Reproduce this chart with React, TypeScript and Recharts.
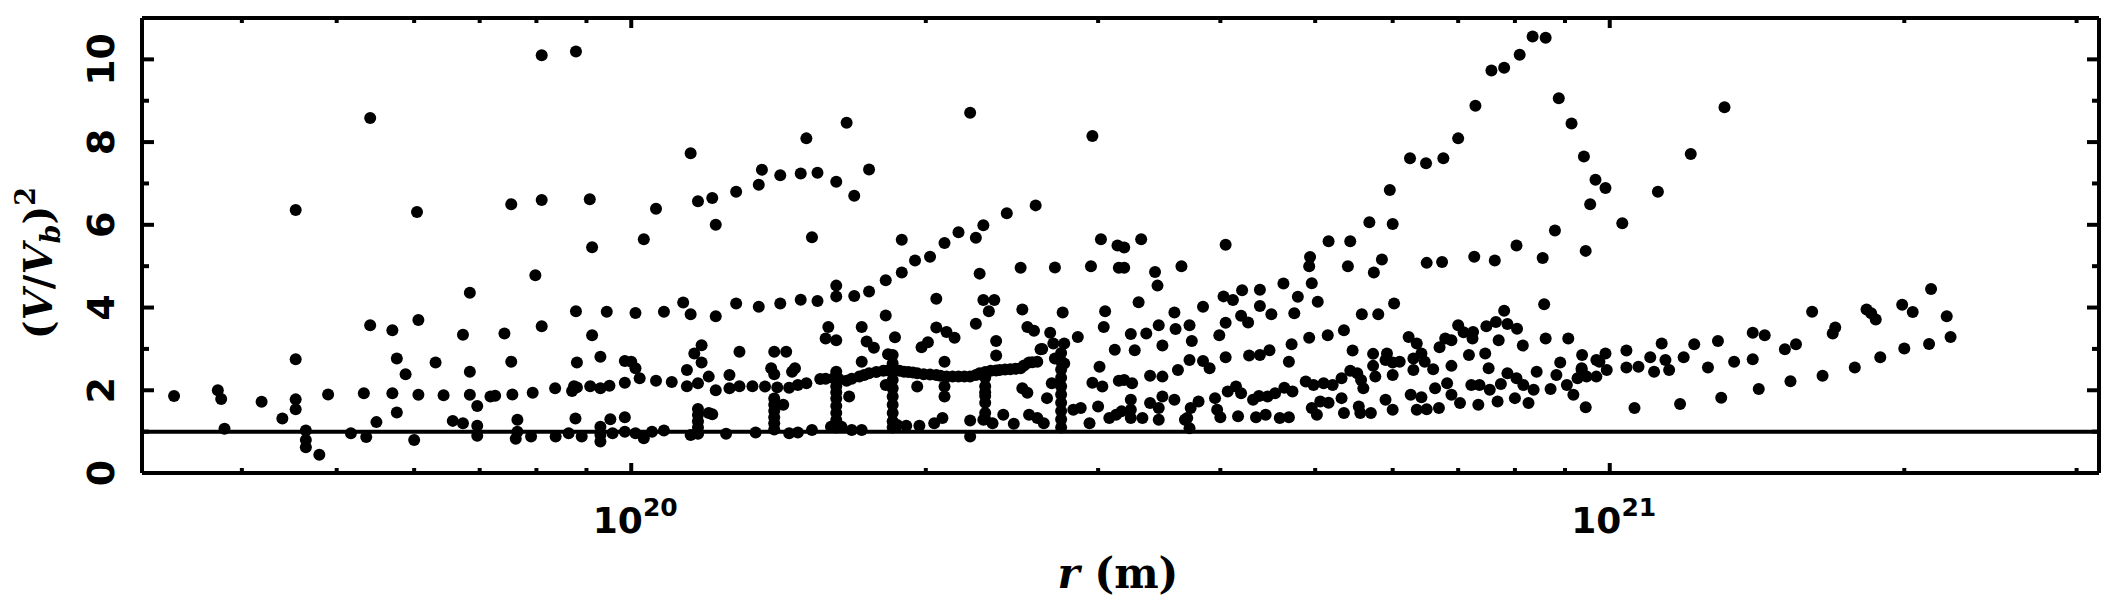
import { ScatterChart, Scatter, XAxis, YAxis, ReferenceLine } from "recharts";

// r (m) and (V/Vb)^2, grouped by region of r
const innerPts: [number, number][] = [
  [3.41e19, 1.86], [3.78e19, 2.0], [3.81e19, 1.79], [3.84e19, 1.07], [4.19e19, 1.72], [4.4e19, 1.32],
  [4.54e19, 6.36], [4.54e19, 2.75], [4.54e19, 1.78], [4.54e19, 1.54], [4.65e19, 1.03], [4.65e19, 0.8],
  [4.65e19, 0.62], [4.8e19, 0.44], [4.9e19, 1.9], [5.17e19, 0.96], [5.33e19, 1.93], [5.36e19, 0.87],
  [5.41e19, 8.58], [5.41e19, 3.57], [5.49e19, 1.23], [5.7e19, 3.45], [5.7e19, 1.93], [5.76e19, 2.77],
  [5.76e19, 1.46], [5.88e19, 2.39], [6.0e19, 0.8], [6.04e19, 6.31], [6.06e19, 3.7], [6.06e19, 1.89],
  [6.31e19, 2.67], [6.43e19, 1.88], [6.57e19, 1.26], [6.73e19, 1.2], [6.73e19, 3.34], [6.84e19, 4.36],
  [6.84e19, 2.45], [6.84e19, 1.89], [6.96e19, 1.62], [6.96e19, 1.14], [6.96e19, 0.9], [7.18e19, 1.85],
  [7.26e19, 1.87], [7.42e19, 3.37], [7.54e19, 6.5], [7.54e19, 2.69], [7.56e19, 1.9], [7.65e19, 1.29],
  [7.65e19, 1.0], [7.62e19, 0.83], [7.9e19, 0.88], [7.93e19, 1.94], [7.98e19, 4.78], [8.1e19, 10.1],
  [8.1e19, 6.6], [8.1e19, 3.55], [8.36e19, 2.05], [8.37e19, 0.88], [8.63e19, 0.96], [8.78e19, 10.19],
  [8.78e19, 3.91], [8.74e19, 2.1], [8.7e19, 1.98], [8.8e19, 2.07], [8.77e19, 1.32], [8.8e19, 2.67],
  [8.9e19, 0.88], [9.07e19, 6.62], [9.12e19, 5.46], [9.12e19, 3.33], [9.08e19, 2.1], [9.3e19, 2.81],
  [9.3e19, 2.05], [9.3e19, 1.12], [9.3e19, 0.92], [9.3e19, 0.76], [9.44e19, 3.9], [9.5e19, 2.11],
  [9.52e19, 1.3], [9.57e19, 0.96], [9.85e19, 2.18], [9.85e19, 2.71], [9.85e19, 1.35], [9.85e19, 1.0],
];

const midPts: [number, number][] = [
  // upper arc
  [1.03e20, 5.65], [1.06e20, 6.39], [1.15e20, 7.73], [1.17e20, 6.57], [1.21e20, 6.65], [1.22e20, 6.0],
  [1.28e20, 6.8], [1.35e20, 6.97], [1.36e20, 7.33], [1.42e20, 7.2], [1.49e20, 7.24], [1.51e20, 8.09],
  [1.55e20, 7.26], [1.53e20, 5.7], [1.62e20, 7.04], [1.66e20, 8.47], [1.69e20, 6.7], [1.75e20, 7.34],
  [1.89e20, 5.64], [2.22e20, 8.71], [2.42e20, 6.28], [2.59e20, 6.47], [2.96e20, 8.15], [3.02e20, 5.65],
  [3.14e20, 5.5],
  // rising track
  [1.01e20, 3.87], [1.08e20, 3.9], [1.13e20, 4.12], [1.15e20, 3.84], [1.22e20, 3.79], [1.28e20, 4.1],
  [1.35e20, 4.02], [1.42e20, 4.1], [1.49e20, 4.19], [1.55e20, 4.16], [1.62e20, 4.27], [1.62e20, 4.53],
  [1.69e20, 4.28], [1.75e20, 4.39], [1.82e20, 4.66], [1.89e20, 4.85], [1.95e20, 5.14], [2.02e20, 5.23],
  [2.09e20, 5.56], [2.16e20, 5.82], [2.25e20, 5.69], [2.29e20, 5.99], [2.27e20, 4.82], [2.5e20, 4.96],
  [2.71e20, 4.97], [2.95e20, 5.0], [3.15e20, 4.96],
  // scattered middle
  [2.05e20, 4.21], [2.29e20, 4.18], [2.35e20, 4.18], [2.32e20, 3.91], [2.51e20, 3.95], [2.76e20, 3.88],
  [3.05e20, 3.91], [2.25e20, 3.61], [3.04e20, 3.53], [1.82e20, 3.81], [1.59e20, 3.53], [1.58e20, 3.25],
  [1.62e20, 3.21], [1.72e20, 3.53], [1.74e20, 3.18], [1.77e20, 3.03], [1.86e20, 3.28], [1.98e20, 3.04],
  [2.01e20, 3.16], [2.05e20, 3.52], [2.1e20, 3.41], [2.14e20, 3.27], [2.36e20, 3.19], [2.36e20, 2.84],
  [2.54e20, 3.53], [2.58e20, 3.44], [2.68e20, 3.39], [2.7e20, 3.13], [2.63e20, 3.0], [2.77e20, 3.13],
  [2.86e20, 3.29], [3.12e20, 2.98], [1.29e20, 2.93], [1.4e20, 2.93], [1.44e20, 2.93], [1.18e20, 3.09],
  [1.16e20, 2.89], [1.18e20, 2.67], [1.14e20, 2.49], [1.39e20, 2.53], [1.4e20, 2.39], [1.47e20, 2.53],
  [1.46e20, 2.45], [1.72e20, 2.69], [1.83e20, 2.87], [2.09e20, 2.69], [3.01e20, 2.57], [3.15e20, 2.23],
  // dense band
  [1.0e20, 2.69], [1.01e20, 2.53], [1.02e20, 2.29], [1.06e20, 2.23], [1.1e20, 2.2], [1.14e20, 2.1],
  [1.17e20, 2.17], [1.2e20, 2.33], [1.22e20, 2.0], [1.26e20, 2.05], [1.26e20, 2.37], [1.29e20, 2.1],
  [1.33e20, 2.1], [1.37e20, 2.09], [1.41e20, 2.07], [1.45e20, 2.06], [1.48e20, 2.13], [1.51e20, 2.17],
  [1.56e20, 2.27], [1.58e20, 2.28], [1.61e20, 2.29], [1.63e20, 2.27], [1.66e20, 2.23], [1.68e20, 2.28],
  [1.71e20, 2.33], [1.73e20, 2.37], [1.75e20, 2.41], [1.78e20, 2.44], [1.81e20, 2.47], [1.83e20, 2.48],
  [1.86e20, 2.49], [1.88e20, 2.47], [1.9e20, 2.45], [1.92e20, 2.44], [1.94e20, 2.43], [1.96e20, 2.41],
  [1.99e20, 2.39], [2.02e20, 2.38], [2.05e20, 2.37], [2.07e20, 2.35], [2.1e20, 2.33], [2.13e20, 2.33],
  [2.16e20, 2.33], [2.19e20, 2.33], [2.22e20, 2.33], [2.25e20, 2.37], [2.27e20, 2.41], [2.3e20, 2.44],
  [2.33e20, 2.47], [2.36e20, 2.48], [2.38e20, 2.49], [2.41e20, 2.5], [2.44e20, 2.51], [2.47e20, 2.52],
  [2.5e20, 2.53], [2.52e20, 2.6], [2.55e20, 2.67], [2.57e20, 2.68], [2.6e20, 2.69],
  // columns
  [1.85e20, 2.85], [1.85e20, 2.65], [1.85e20, 2.25], [1.85e20, 2.05], [1.85e20, 1.85], [1.85e20, 1.65],
  [1.85e20, 1.45], [1.85e20, 1.25], [1.85e20, 1.1],
  [1.62e20, 2.45], [1.62e20, 2.1], [1.62e20, 1.95], [1.62e20, 1.8], [1.62e20, 1.62], [1.62e20, 1.45],
  [1.62e20, 1.28], [1.62e20, 1.1],
  [1.4e20, 1.8], [1.4e20, 1.65], [1.4e20, 1.5], [1.4e20, 1.35], [1.4e20, 1.2], [1.4e20, 1.05],
  [1.17e20, 1.55], [1.17e20, 1.4], [1.17e20, 1.25], [1.17e20, 1.1], [1.17e20, 0.95],
  [2.75e20, 2.9], [2.75e20, 2.7], [2.75e20, 2.5], [2.75e20, 2.3], [2.75e20, 2.1], [2.75e20, 1.9],
  [2.75e20, 1.7], [2.75e20, 1.5], [2.75e20, 1.3], [2.75e20, 1.1],
  [2.3e20, 2.3], [2.3e20, 2.1], [2.3e20, 1.95], [2.3e20, 1.7], [2.3e20, 1.45], [2.3e20, 1.3],
  // lower band
  [1.01e20, 0.96], [1.03e20, 0.84], [1.05e20, 1.0], [1.08e20, 1.03], [1.15e20, 0.92], [1.17e20, 0.96],
  [1.21e20, 1.42], [1.2e20, 1.45], [1.25e20, 0.95], [1.34e20, 0.98], [1.45e20, 0.96], [1.48e20, 0.98],
  [1.53e20, 1.04], [1.6e20, 1.12], [1.64e20, 1.12], [1.68e20, 1.04], [1.72e20, 1.04], [1.87e20, 1.16],
  [1.91e20, 1.14], [1.97e20, 1.14], [2.04e20, 1.2], [2.08e20, 1.33], [2.22e20, 1.27], [2.22e20, 0.88],
  [2.29e20, 1.29], [2.34e20, 1.2], [2.4e20, 1.41], [2.46e20, 1.19], [2.55e20, 1.41], [2.6e20, 1.33],
  [2.64e20, 1.2], [2.66e20, 1.81], [2.83e20, 1.53], [2.88e20, 1.57], [2.94e20, 1.2], [3.0e20, 1.61],
  [3.08e20, 1.33], [3.13e20, 1.41], [3.03e20, 2.09], [2.96e20, 2.18], [2.51e20, 2.05], [2.54e20, 1.94],
  [2.69e20, 2.17], [2.62e20, 2.99], [2.71e20, 2.77], [2.77e20, 2.65], [1.43e20, 1.65], [1.67e20, 1.85],
  [1.96e20, 2.09], [2.09e20, 1.85], [2.09e20, 2.09], [2.3e20, 1.86], [1.82e20, 2.13],
];

const outerPts: [number, number][] = [
  [3.19e20, 5.45], [3.32e20, 5.65], [3.19e20, 4.96], [3.43e20, 4.86], [3.45e20, 4.53], [3.3e20, 4.13],
  [3.65e20, 5.0], [4.05e20, 5.52], [3.59e20, 3.88], [3.84e20, 4.02], [3.24e20, 3.36], [3.36e20, 3.37],
  [3.46e20, 3.57], [3.6e20, 3.48], [3.72e20, 3.57], [3.74e20, 3.19], [3.49e20, 3.08], [3.27e20, 2.97],
  [3.99e20, 3.33], [4.05e20, 3.63], [4.03e20, 4.27], [4.12e20, 4.18], [4.21e20, 4.42], [4.2e20, 3.8],
  [4.27e20, 3.64], [4.39e20, 4.43], [4.39e20, 4.04], [4.51e20, 3.84], [4.64e20, 4.58], [4.76e20, 3.86],
  [4.8e20, 4.26], [4.96e20, 4.59], [5.03e20, 4.14], [4.94e20, 5.22], [4.93e20, 5.0], [5.16e20, 5.6],
  [5.43e20, 5.6], [5.4e20, 5.0], [5.68e20, 6.06], [5.74e20, 4.85], [5.85e20, 5.16], [5.96e20, 6.84],
  [6.0e20, 6.02], [6.02e20, 4.1], [6.25e20, 7.61], [6.49e20, 7.49], [6.76e20, 7.61], [7.0e20, 8.09],
  [7.29e20, 8.88], [7.57e20, 9.73], [7.8e20, 9.8], [8.09e20, 10.11], [8.34e20, 10.55], [8.6e20, 10.52],
  [8.87e20, 9.06], [9.14e20, 8.45], [9.41e20, 7.65], [9.67e20, 7.09], [9.9e20, 6.89], [9.55e20, 6.5],
  [8.79e20, 5.86], [9.45e20, 5.37], [8.54e20, 5.2], [8.03e20, 5.5], [7.63e20, 5.14], [7.27e20, 5.23],
  [6.74e20, 5.1], [6.5e20, 5.08], [8.57e20, 4.08], [7.8e20, 3.92], [7.0e20, 3.57], [7.25e20, 3.41],
  [7.09e20, 3.4], [7.48e20, 3.55], [7.65e20, 3.65], [7.86e20, 3.6], [8.04e20, 3.49], [7.7e20, 3.21],
  [8.15e20, 3.08], [8.6e20, 3.25], [9.07e20, 3.25], [7.24e20, 3.25], [6.23e20, 3.29], [6.35e20, 3.13],
  [6.79e20, 3.25], [6.89e20, 3.21], [6.7e20, 3.04], [5.58e20, 3.84], [5.8e20, 3.84], [5.35e20, 3.45],
  [5.15e20, 3.33], [4.93e20, 3.27], [5.46e20, 2.96], [4.73e20, 3.11], [4.7e20, 2.69], [4.49e20, 2.97],
  [4.39e20, 2.85], [4.28e20, 2.84], [4.05e20, 2.8], [3.84e20, 2.71], [3.9e20, 2.53], [3.72e20, 2.73],
  [3.62e20, 2.49], [3.49e20, 2.33], [3.39e20, 2.35], [3.19e20, 2.25], [3.25e20, 2.17], [5.73e20, 2.88],
  [5.92e20, 2.89], [5.9e20, 2.73], [6.0e20, 2.67], [6.1e20, 2.69], [6.0e20, 2.37], [5.73e20, 2.59],
  [5.76e20, 2.33], [6.3e20, 2.49], [6.3e20, 2.77], [6.42e20, 2.89], [6.47e20, 2.69], [6.6e20, 2.51],
  [6.89e20, 2.59], [7.18e20, 2.85], [7.46e20, 2.89], [7.52e20, 2.53], [8.9e20, 2.67], [9.37e20, 2.85],
  [9.69e20, 2.73], [9.9e20, 2.89], [9.36e20, 2.53], [9.93e20, 2.49],
  // lower band
  [5.43e20, 2.47], [5.52e20, 2.41], [5.57e20, 2.25], [5.32e20, 2.29], [5.6e20, 2.05], [4.89e20, 2.21],
  [4.98e20, 2.13], [5.1e20, 2.17], [5.21e20, 2.13], [4.74e20, 1.97], [4.65e20, 2.06], [4.55e20, 1.93],
  [4.47e20, 1.85], [4.38e20, 1.86], [4.32e20, 1.77], [4.2e20, 1.93], [4.15e20, 2.09], [4.07e20, 1.97],
  [3.95e20, 1.81], [3.97e20, 1.53], [4.0e20, 1.35], [4.17e20, 1.37], [4.35e20, 1.35], [4.45e20, 1.41],
  [4.6e20, 1.33], [4.7e20, 1.35], [3.8e20, 1.73], [3.73e20, 1.57], [3.7e20, 1.33], [3.72e20, 1.08],
  [3.59e20, 1.77], [3.49e20, 1.85], [3.46e20, 1.57], [3.46e20, 1.29], [3.39e20, 1.69], [3.33e20, 1.33],
  [3.24e20, 1.77], [3.24e20, 1.53], [3.24e20, 1.33], [3.17e20, 1.49], [4.96e20, 1.57], [5.02e20, 1.41],
  [5.06e20, 1.73], [5.16e20, 1.7], [5.32e20, 1.81], [5.35e20, 1.45], [5.54e20, 1.61], [5.56e20, 1.45],
  [5.7e20, 1.45], [5.9e20, 1.77], [6.0e20, 1.53], [6.26e20, 1.89], [6.35e20, 1.53], [6.42e20, 1.83],
  [6.5e20, 1.54], [6.69e20, 1.57], [6.63e20, 2.05], [6.82e20, 2.17], [6.89e20, 1.89], [7.03e20, 1.69],
  [7.22e20, 2.13], [7.36e20, 2.13], [7.34e20, 1.65], [7.54e20, 2.01], [7.68e20, 1.73], [7.74e20, 2.15],
  [7.86e20, 2.41], [8.03e20, 2.29], [8.16e20, 2.13], [8.26e20, 1.69], [8.36e20, 2.01], [8.42e20, 2.45],
  [8.0e20, 1.81], [8.7e20, 2.03], [8.82e20, 2.37], [9.04e20, 2.13], [9.18e20, 1.89], [9.45e20, 1.59],
  [9.36e20, 2.49], [9.76e20, 2.69], [9.27e20, 2.29], [9.47e20, 2.33], [9.69e20, 2.33], [3.68e20, 1.29],
];

const farPts: [number, number][] = [
  [1.03e21, 6.04], [1.12e21, 6.8], [1.21e21, 7.71], [1.31e21, 8.84], [1.04e21, 2.96], [1.04e21, 2.55],
  [1.07e21, 2.57], [1.06e21, 1.57], [1.1e21, 2.8], [1.11e21, 2.45], [1.13e21, 3.13], [1.14e21, 2.73],
  [1.15e21, 2.49], [1.18e21, 1.67], [1.19e21, 2.8], [1.22e21, 3.11], [1.26e21, 2.55], [1.29e21, 3.19],
  [1.3e21, 1.82], [1.34e21, 2.69], [1.4e21, 3.39], [1.44e21, 3.33], [1.4e21, 2.75], [1.42e21, 2.03],
  [1.51e21, 2.99], [1.55e21, 3.11], [1.53e21, 2.22], [1.61e21, 3.9], [1.65e21, 2.35], [1.69e21, 3.37],
  [1.7e21, 3.52], [1.78e21, 2.55], [1.83e21, 3.95], [1.85e21, 3.86], [1.87e21, 3.71], [1.89e21, 2.8],
  [1.99e21, 4.07], [2.04e21, 3.89], [2.0e21, 3.01], [2.13e21, 4.45], [2.12e21, 3.12], [2.21e21, 3.79],
  [2.23e21, 3.29],
];

const xTicks = [
  4e19, 5e19, 6e19, 7e19, 8e19, 9e19, 1e20, 2e20, 3e20, 4e20, 5e20, 6e20, 7e20, 8e20, 9e20, 1e21, 2e21, 3e21,
];
const yTicks = [0, 1, 2, 3, 4, 5, 6, 7, 8, 9, 10];
const X_DOMAIN = [3.1623e19, 3.1623e21];
const Y_DOMAIN = [0, 11];
const REF_Y = 1;

const data = [...innerPts, ...midPts, ...outerPts, ...farPts].map(([r, v]) => ({ r, v }));

const INK = "#000";
const SANS = "'DejaVu Sans', sans-serif";
const SERIF = "'DejaVu Serif', serif";
const LW = 4;

const isDecade = (v: number) => Math.abs(Math.log10(v) - Math.round(Math.log10(v))) < 1e-6;

function BottomTick(props: any) {
  const { x, y, payload } = props;
  const major = isDecade(payload.value);
  return (
    <g>
      <line x1={x} x2={x} y1={y} y2={y - (major ? 10 : 5)} stroke={INK} strokeWidth={LW} />
      {major && (
        <text x={x + 4} y={y + 60} textAnchor="middle" fontFamily={SANS} fontWeight="bold" fontSize={36} fill={INK}>
          10
          <tspan dy={-17} fontSize={25}>{Math.round(Math.log10(payload.value))}</tspan>
        </text>
      )}
    </g>
  );
}

function TopTick(props: any) {
  const { x, y, payload } = props;
  const major = isDecade(payload.value);
  return <line x1={x} x2={x} y1={y} y2={y + (major ? 10 : 5)} stroke={INK} strokeWidth={LW} />;
}

function LeftTick(props: any) {
  const { x, y, payload } = props;
  const major = payload.value % 2 === 0;
  const lx = x - 28;
  return (
    <g>
      <line x1={x} x2={x + (major ? 12 : 7)} y1={y} y2={y} stroke={INK} strokeWidth={LW} />
      {major && (
        <text x={lx} y={y} transform={`rotate(-90 ${lx} ${y})`} textAnchor="middle" fontFamily={SANS}
          fontWeight="bold" fontSize={38} fill={INK}>
          {payload.value}
        </text>
      )}
    </g>
  );
}

function RightTick(props: any) {
  const { x, y, payload } = props;
  const major = payload.value % 2 === 0;
  return <line x1={x} x2={x - (major ? 12 : 7)} y1={y} y2={y} stroke={INK} strokeWidth={LW} />;
}

const Dot = (p: any) => <circle cx={p.cx} cy={p.cy} r={6} fill={INK} />;
const NoDot = () => <g />;

export default function App() {
  const W = 2103;
  const H = 594;
  const frame = { stroke: INK, strokeWidth: LW };
  return (
    <div style={{ position: "relative", width: W, height: H, background: "#fff" }}>
      <ScatterChart width={W} height={H} margin={{ top: 9, right: 10, bottom: 69, left: 70 }}>
        <XAxis xAxisId="b" type="number" dataKey="r" scale="log" domain={X_DOMAIN} allowDataOverflow
          ticks={xTicks} interval={0} tickSize={0} tickMargin={0} tickLine={false} tick={<BottomTick />}
          axisLine={frame} height={60} orientation="bottom" />
        <XAxis xAxisId="t" type="number" dataKey="r" scale="log" domain={X_DOMAIN} allowDataOverflow
          ticks={xTicks} interval={0} tickSize={0} tickMargin={0} tickLine={false} tick={<TopTick />}
          axisLine={frame} height={1} orientation="top" />
        <YAxis yAxisId="l" type="number" dataKey="v" domain={Y_DOMAIN} allowDataOverflow ticks={yTicks}
          interval={0} tickSize={0} tickMargin={0} tickLine={false} tick={<LeftTick />} axisLine={frame}
          width={64} orientation="left" />
        <YAxis yAxisId="r" type="number" dataKey="v" domain={Y_DOMAIN} allowDataOverflow ticks={yTicks}
          interval={0} tickSize={0} tickMargin={0} tickLine={false} tick={<RightTick />} axisLine={frame}
          width={2} orientation="right" />
        <ReferenceLine xAxisId="b" yAxisId="l" y={REF_Y} stroke={INK} strokeWidth={LW} />
        <Scatter xAxisId="t" yAxisId="r" data={data} shape={NoDot} isAnimationActive={false} />
        <Scatter xAxisId="b" yAxisId="l" data={data} shape={Dot} isAnimationActive={false} />
      </ScatterChart>
      <svg width={W} height={H} style={{ position: "absolute", left: 0, top: 0, pointerEvents: "none" }}>
        <text x={44} y={255} transform="rotate(-90 44 255)" textAnchor="middle" fontFamily={SERIF}
          fontWeight="bold" fontSize={40} fill={INK}>
          (<tspan fontStyle="italic">V</tspan>/<tspan fontStyle="italic">V</tspan>
          <tspan dy={8} fontSize={27} fontStyle="italic">b</tspan>
          <tspan dy={-8}>)</tspan>
          <tspan dy={-17} fontSize={27}>2</tspan>
        </text>
        <text x={1110} y={580} textAnchor="middle" fontFamily={SERIF} fontWeight="bold" fontSize={42} fill={INK}>
          <tspan fontStyle="italic">r</tspan> (m)
        </text>
      </svg>
    </div>
  );
}
